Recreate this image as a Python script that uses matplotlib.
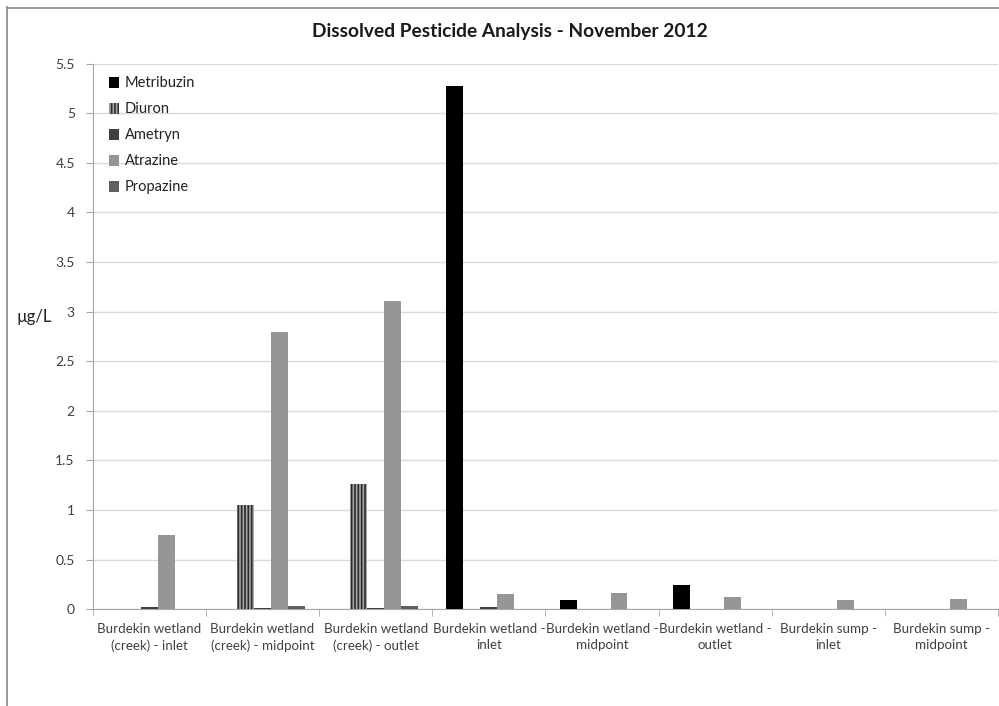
import matplotlib
matplotlib.use("Agg")
import matplotlib.pyplot as plt
import numpy as np
from matplotlib.lines import Line2D

categories = ["Burdekin wetland\n(creek) - inlet", "Burdekin wetland\n(creek) - midpoint",
              "Burdekin wetland\n(creek) - outlet", "Burdekin wetland -\ninlet",
              "Burdekin wetland -\nmidpoint", "Burdekin wetland -\noutlet",
              "Burdekin sump -\ninlet", "Burdekin sump -\nmidpoint"]
series_names = ["Metribuzin", "Diuron", "Ametryn", "Atrazine", "Propazine"]
metribuzin = [0, 0, 0, 5.27, 0.09, 0.24, 0, 0]
diuron = [0, 1.05, 1.26, 0, 0, 0, 0, 0]
ametryn = [0.02, 0.01, 0.01, 0.02, 0, 0, 0, 0]
atrazine = [0.75, 2.79, 3.11, 0.15, 0.16, 0.12, 0.09, 0.10]
propazine = [0, 0.03, 0.03, 0, 0, 0, 0, 0]
yticks = [0, 0.5, 1, 1.5, 2, 2.5, 3, 3.5, 4, 4.5, 5, 5.5]
ytick_labels = ["0", "0.5", "1", "1.5", "2", "2.5", "3", "3.5", "4", "4.5", "5", "5.5"]

plt.rcParams['font.family'] = ['Lato', 'DejaVu Sans']
plt.rcParams['hatch.color'] = '#2a2a2a'
plt.rcParams['hatch.linewidth'] = 1.2

fig = plt.figure(figsize=(9.99, 7.06), dpi=100)
ax = fig.add_axes([0.093, 0.137, 0.906, 0.773])

# figure border
fig.add_artist(Line2D([0.007, 0.007], [0.0, 0.99], transform=fig.transFigure, color='#888888', lw=1.2))
fig.add_artist(Line2D([0.007, 1.0], [0.988, 0.988], transform=fig.transFigure, color='#888888', lw=1.2))

data = [metribuzin, diuron, ametryn, atrazine, propazine]
colors = ['#000000', '#a8a8a8', '#404040', '#969696', '#5f5f5f']
hatches = [None, '|||||', None, None, None]
x = np.arange(len(categories))
w = 0.15
for i, (vals, c, h, name) in enumerate(zip(data, colors, hatches, series_names)):
    offs = (i - 2) * w
    if h:
        ax.bar(x + offs, vals, w, color=c, hatch=h, edgecolor='#2a2a2a', linewidth=0, label=name, zorder=3)
    else:
        ax.bar(x + offs, vals, w, color=c, edgecolor='none', label=name, zorder=3)

ax.set_xlim(-0.5, len(categories) - 0.5)
ax.set_ylim(0, 5.5)
ax.set_yticks(yticks)
ax.set_yticklabels(ytick_labels, fontsize=10, color='#404040')
ax.yaxis.grid(True, color='#d9d9d9', linewidth=1)
ax.set_axisbelow(True)
ax.set_xticks(x)
ax.set_xticklabels(categories, fontsize=9.6, color='#404040', linespacing=1.4)
ax.tick_params(axis='x', length=0, pad=10)
ax.set_xticks(np.arange(-0.5, len(categories) + 0.5, 1), minor=True)
ax.tick_params(axis='x', which='minor', length=5, color='#a6a6a6')
ax.tick_params(axis='y', length=5, color='#a6a6a6', pad=8)
for s in ['top', 'right']:
    ax.spines[s].set_visible(False)
ax.spines['left'].set_color('#a6a6a6')
ax.spines['bottom'].set_color('#a6a6a6')

ax.set_ylabel("µg/L", fontsize=12, rotation=0, color='#222222')
ax.yaxis.set_label_coords(-0.065, 0.52)

fig.text(0.51, 0.955, "Dissolved Pesticide Analysis - November 2012", ha='center', va='center',
         fontsize=13.8, fontweight='bold', color='#1a1a1a')

leg = ax.legend(loc='upper left', bbox_to_anchor=(0.006, 0.995), frameon=False, fontsize=10.5,
                handlelength=0.75, handleheight=0.75, handletextpad=0.35, labelspacing=0.82,
                borderaxespad=0.3)
for t in leg.get_texts():
    t.set_color('#222222')

fig.savefig("out.png", dpi=100)
